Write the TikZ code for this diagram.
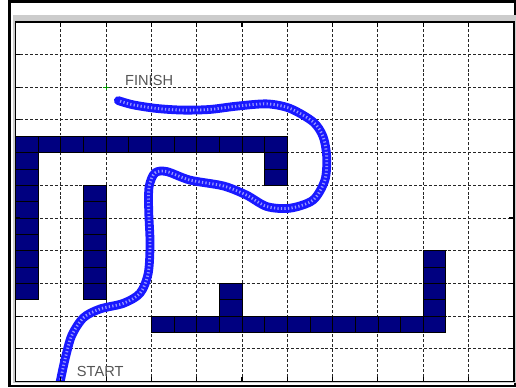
\documentclass[tikz,border=0pt]{standalone}
\usepackage{fontspec}
\setmainfont{Liberation Sans}
\definecolor{wallblue}{RGB}{0,0,128}
\definecolor{trackblue}{RGB}{25,25,255}
\definecolor{labelgray}{RGB}{85,85,85}
\begin{document}
\begin{tikzpicture}[x=0.906cm,y=0.654cm,
  wall/.style={fill=wallblue,draw=black,line width=0.4pt},
  gridline/.style={black!85,line width=0.5pt,dash pattern=on 1.7pt off 1.1pt},
  axistick/.style={black,line width=0.6pt},
  maplabel/.style={text=labelgray,font=\fontsize{8.3}{10}\selectfont,inner sep=0pt},
  trackbase/.style={trackblue,line width=5pt,line cap=round,line join=round},
  trackgrain/.style={trackblue!45!white,line width=1.6pt,dash pattern=on 0.7pt off 1.3pt}]
\useasboundingbox (-0.342,-0.168) rectangle (11.049,11.667);
% window frame and bevel
\draw[line width=1.4pt] (-0.132,-0.138) rectangle (11.03,11.62);
\fill[black!20] (-0.066,-0.046) rectangle (11.049,11.22);
\fill[white] (0,0) rectangle (11,11);

% grid
\foreach \i in {1,...,10} {
  \draw[gridline] (\i,0) -- (\i,11);
  \draw[gridline] (0,\i) -- (11,\i);
}

% obstacles
\foreach \x in {0,0.5,...,5.5} \draw[wall] (\x,7) rectangle ++(0.5,0.5);
\foreach \y in {6,6.5} \draw[wall] (5.5,\y) rectangle ++(0.5,0.5);
\foreach \y in {2.5,3,...,6.5} \draw[wall] (0,\y) rectangle ++(0.5,0.5);
\foreach \y in {2.5,3,...,5.5} \draw[wall] (1.5,\y) rectangle ++(0.5,0.5);
\foreach \x in {3,3.5,...,9} \draw[wall] (\x,1.5) rectangle ++(0.5,0.5);
\foreach \y in {2,2.5} \draw[wall] (4.5,\y) rectangle ++(0.5,0.5);
\foreach \y in {2,2.5,...,3.5} \draw[wall] (9,\y) rectangle ++(0.5,0.5);

% robot track
\begin{scope}
\clip (0,0) rectangle (11,11);
\def\trackpts{(0.98,-0.05) (1.09,0.66) (1.24,1.40) (1.50,1.95)
  (1.87,2.22) (2.38,2.39) (2.75,2.70) (2.93,3.31) (2.97,4.23) (2.94,5.24) (2.95,5.96)
  (3.08,6.38) (3.34,6.42) (3.85,6.16) (4.59,5.98) (5.10,5.70) (5.55,5.35) (6.06,5.30)
  (6.57,5.55) (6.83,6.16) (6.87,6.87) (6.79,7.49) (6.57,7.94) (6.06,8.35) (5.55,8.49)
  (4.88,8.42) (4.29,8.32) (3.70,8.30) (3.12,8.35) (2.60,8.46) (2.27,8.59)}
\draw[trackbase] plot[smooth] coordinates {\trackpts};
\draw[trackgrain] plot[smooth] coordinates {\trackpts};
\end{scope}

% axes box
\draw[line width=1.1pt] (0,0) rectangle (11,11);
\foreach \i in {1,...,10} {
  \draw[axistick] (\i,0) -- ++(0,0.1cm);
  \draw[axistick] (\i,11) -- ++(0,-0.1cm);
  \draw[axistick] (0,\i) -- ++(0.1cm,0);
  \draw[axistick] (11,\i) -- ++(-0.1cm,0);
}

% goal marker and labels
\coordinate (goal) at (2,9);
\draw[green!60!black,line width=0.5pt] (goal) +(-1.5pt,0) -- +(1.5pt,0) (goal) +(0,-1.5pt) -- +(0,1.5pt);
\node[maplabel] (finish) at (2.95,9.22) {FINISH};
\node[maplabel] (start) at (1.87,0.30) {START};
\end{tikzpicture}
\end{document}
